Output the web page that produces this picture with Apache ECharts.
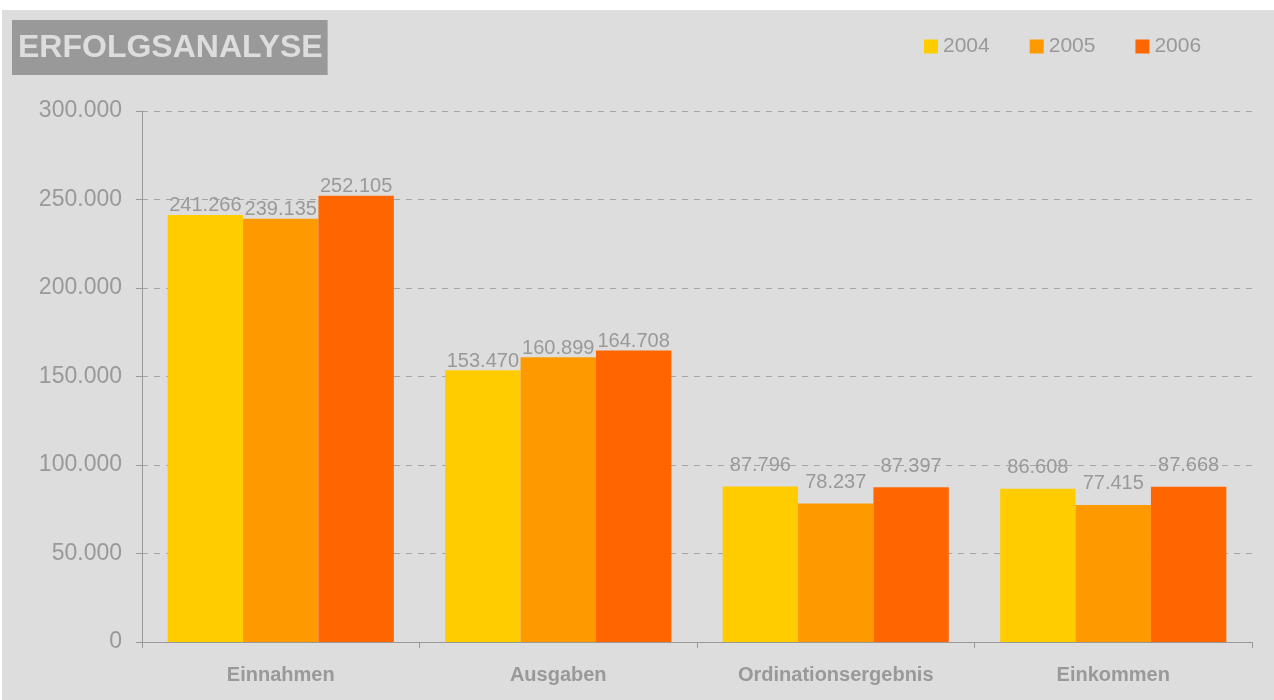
<!DOCTYPE html>
<html>
<head>
<meta charset="utf-8">
<script src="https://cdn.jsdelivr.net/npm/echarts@6/dist/echarts.min.js"></script>
<style>
  html, body { margin: 0; padding: 0; background: #ffffff; }
  #chart { position: absolute; left: 2px; top: 10px; width: 1272px; height: 690px; background: #dddddd; }
</style>
</head>
<body>
<div id="chart"></div>
<script>
const categories = ['Einnahmen', 'Ausgaben', 'Ordinationsergebnis', 'Einkommen']
const years = ['2004', '2005', '2006']
const values2004 = [241266, 153470, 87796, 86608]
const values2005 = [239135, 160899, 78237, 77415]
const values2006 = [252105, 164708, 87397, 87668]
const colors = ['#FFCC00', '#FF9900', '#FF6600']

// Tausenderpunkt wie im Original
function fmt (v) {
  return String(v).replace(/\B(?=(\d{3})+(?!\d))/g, '.')
}

const chart = echarts.init(document.getElementById('chart'))

function barSeries (name, data, color) {
  return {
    name: name,
    type: 'bar',
    barGap: 0,
    barCategoryGap: '18.5%',
    itemStyle: { color: color },
    label: {
      show: true,
      position: 'top',
      distance: -1,
      color: '#999999',
      fontSize: 20,
      fontFamily: 'Liberation Sans, Arial, sans-serif',
      formatter: function (p) { return fmt(p.value) }
    },
    // kleinere Balken: Beschriftung etwas höher (wie im Original)
    data: data.map(function (v) {
      return v < 100000 ? { value: v, label: { distance: 11 } } : v
    })
  }
}

const option = {
  animation: false,
  textStyle: { fontFamily: 'Liberation Sans, Arial, sans-serif' },
  title: {
    text: 'ERFOLGSANALYSE',
    left: 10,
    top: 10,
    backgroundColor: '#999999',
    padding: [12, 5, 11, 6],
    textStyle: {
      color: '#dddddd',
      fontSize: 32,
      fontWeight: 'bold',
      fontFamily: 'Liberation Sans, Arial, sans-serif'
    }
  },
  legend: {
    data: years,
    left: 917,
    top: 21,
    itemWidth: 14,
    itemHeight: 14,
    itemGap: 40,
    icon: 'rect',
    textStyle: { color: '#999999', fontSize: 21 }
  },
  grid: {
    left: 140,
    right: 22,
    top: 101,
    bottom: 58
  },
  xAxis: {
    type: 'category',
    data: categories,
    axisLine: { lineStyle: { color: '#999999', width: 1 } },
    axisTick: { show: true, length: 6, lineStyle: { color: '#999999' } },
    axisLabel: {
      color: '#999999',
      fontSize: 20,
      fontWeight: 'bold',
      margin: 23
    }
  },
  yAxis: {
    type: 'value',
    min: 0,
    max: 300000,
    interval: 50000,
    axisLine: { show: true, lineStyle: { color: '#999999', width: 1 } },
    axisTick: { show: true, length: 6, lineStyle: { color: '#999999' } },
    axisLabel: {
      color: '#999999',
      fontSize: 23,
      margin: 20,
      formatter: function (v) { return fmt(v) }
    },
    splitLine: {
      lineStyle: { type: [6, 6], color: '#a6a6a6' }
    }
  },
  series: [
    barSeries(years[0], values2004, colors[0]),
    barSeries(years[1], values2005, colors[1]),
    barSeries(years[2], values2006, colors[2])
  ]
}

chart.setOption(option)
</script>
</body>
</html>
